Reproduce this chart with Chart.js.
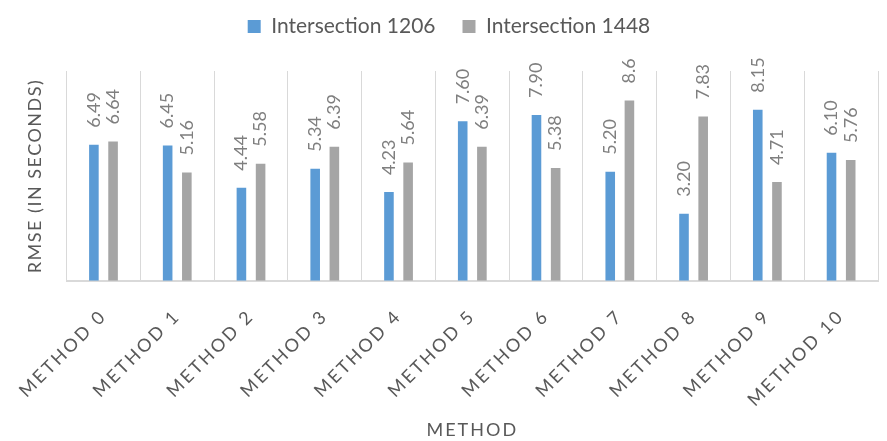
<!DOCTYPE html>
<html>
<head>
<meta charset="utf-8">
<title>RMSE by method</title>
<script src="https://cdn.jsdelivr.net/npm/chart.js@4.4.1/dist/chart.umd.min.js"></script>
<style>
  html, body { margin: 0; padding: 0; background: #ffffff; }
  #wrap { width: 887px; height: 441px; position: relative; }
</style>
</head>
<body>
<div id="wrap"><canvas id="rmseChart"></canvas></div>
<script>
// ---- data ----
const methods = ['METHOD 0', 'METHOD 1', 'METHOD 2', 'METHOD 3', 'METHOD 4', 'METHOD 5',
                 'METHOD 6', 'METHOD 7', 'METHOD 8', 'METHOD 9', 'METHOD 10'];
// kept as strings so the labels print exactly like the original (e.g. "8.6")
const int1206 = ['6.49', '6.45', '4.44', '5.34', '4.23', '7.60', '7.90', '5.20', '3.20', '8.15', '6.10'];
const int1448 = ['6.64', '5.16', '5.58', '6.39', '5.64', '6.39', '5.38', '8.6', '7.83', '4.71', '5.76'];
const seriesNames = ['Intersection 1206', 'Intersection 1448'];
const yMin = 0;
const yMax = 10;

const BLUE = '#5B9BD5';
const GREY = '#A5A5A5';
const TEXT = '#595959';
const FONT = 'Lato';

// value labels, rotated, above every bar
const barValueLabels = {
  id: 'barValueLabels',
  afterDatasetsDraw(chart) {
    const ctx = chart.ctx;
    chart.data.datasets.forEach((ds, i) => {
      const meta = chart.getDatasetMeta(i);
      meta.data.forEach((bar, j) => {
        ctx.save();
        ctx.translate(bar.x, bar.y - 17);
        ctx.rotate(-Math.PI / 2);
        ctx.font = '18px ' + FONT;
        ctx.fillStyle = '#7F7F7F';
        ctx.textAlign = 'left';
        ctx.textBaseline = 'middle';
        ctx.fillText(String(ds.data[j]), 0, 0);
        ctx.restore();
      });
    });
  }
};

// Excel spaces out the axis texts; canvas letterSpacing does the same
const axisSpacing = { x: { labels: '2.5px', title: '2px' }, y: { labels: '0px', title: '1.5px' } };
const spacedAxisText = {
  id: 'spacedAxisText',
  beforeDraw(chart) {
    Object.keys(axisSpacing).forEach(id => {
      const scale = chart.scales[id];
      if (!scale || scale._spaced) return;
      scale._spaced = true;
      [['drawLabels', 'labels'], ['drawTitle', 'title']].forEach(([fn, key]) => {
        const orig = scale[fn];
        scale[fn] = function(...args) {
          this.ctx.save();
          this.ctx.letterSpacing = axisSpacing[id][key];
          orig.apply(this, args);
          this.ctx.restore();
        };
      });
    });
  }
};

// extra room under the legend so the plot starts lower
const legendGap = {
  id: 'legendGap',
  afterInit(chart) {
    const fit = chart.legend.fit;
    chart.legend.fit = function() {
      fit.call(this);
      this.height += 24;
    };
  }
};

new Chart(document.getElementById('rmseChart'), {
  type: 'bar',
  data: {
    labels: methods,
    datasets: [
      { label: seriesNames[0], data: int1206, backgroundColor: BLUE, borderWidth: 0 },
      { label: seriesNames[1], data: int1448, backgroundColor: GREY, borderWidth: 0 }
    ]
  },
  options: {
    responsive: true,
    maintainAspectRatio: false,
    animation: false,
    categoryPercentage: 0.52,
    barPercentage: 0.5,
    layout: { padding: { top: -11, left: 20, right: 9, bottom: 0 } },
    plugins: {
      legend: {
        position: 'top',
        labels: {
          boxWidth: 13,
          boxHeight: 13,
          padding: 27,
          color: TEXT,
          font: { family: FONT, size: 21 }
        }
      },
      tooltip: { enabled: false }
    },
    scales: {
      x: {
        grid: { color: '#D9D9D9', lineWidth: 1, offset: true, drawTicks: false },
        border: { color: '#D9D9D9', width: 2 },
        ticks: {
          color: TEXT,
          font: { family: FONT, size: 18 },
          minRotation: 45,
          maxRotation: 45,
          padding: 24.5
        },
        title: {
          display: true,
          text: 'METHOD',
          color: TEXT,
          font: { family: FONT, size: 18 },
          padding: { top: 0, bottom: 0 }
        }
      },
      y: {
        min: yMin,
        max: yMax,
        grid: { display: false, drawTicks: false },
        border: { display: false },
        ticks: { display: false },
        title: {
          display: true,
          text: 'RMSE (IN SECONDS)',
          color: TEXT,
          font: { family: FONT, size: 18 },
          padding: { top: 4, bottom: 21 }
        }
      }
    }
  },
  plugins: [barValueLabels, spacedAxisText, legendGap]
});
</script>
</body>
</html>
